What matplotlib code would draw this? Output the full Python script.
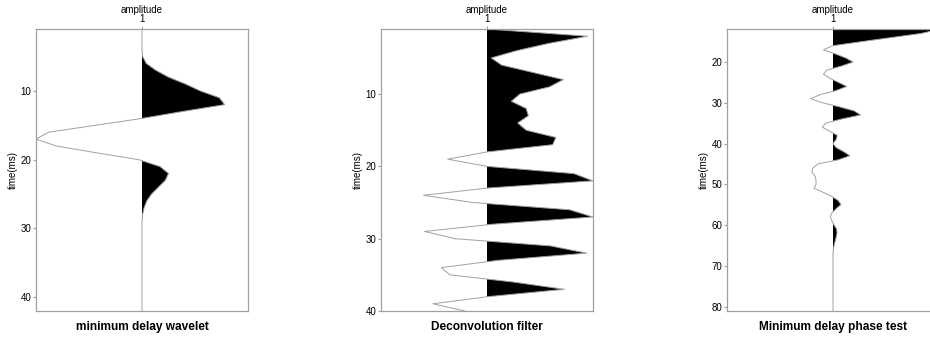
import numpy as np
import matplotlib
matplotlib.use("Agg")
import matplotlib.pyplot as plt

plt.rcParams['font.family'] = ['Liberation Sans', 'DejaVu Sans']

# minimum delay wavelet, 1..42 ms
t1 = np.arange(1, 43)
w1 = [0, 0, 0, 0, 0.006, 0.04, 0.13, 0.25, 0.41, 0.55, 0.73, 0.78, 0.38, 0.0,
      -0.44, -0.88, -1.0, -0.81, -0.43, -0.03, 0.17, 0.25, 0.22, 0.155, 0.09,
      0.045, 0.02, 0.005, 0, 0, 0, 0, 0, 0, 0, 0, 0, 0, 0, 0, 0, 0]

# deconvolution filter, 1..40 ms
t2 = np.arange(1, 41)
w2 = [0.0, 0.95, 0.58, 0.28, 0.04, 0.14, 0.43, 0.72, 0.59, 0.31, 0.23, 0.37,
      0.39, 0.29, 0.37, 0.65, 0.62, 0.0, -0.37, 0.0, 0.82, 1.0, 0.0, -0.6,
      -0.13, 0.78, 1.0, 0.05, -0.59, -0.3, 0.6, 0.94, 0.1, -0.43, -0.35, 0.25,
      0.73, 0.02, -0.51, -0.21]

# minimum delay phase test, 12..81 ms
t3 = np.arange(12, 82)
w3 = [1.0, 0.83, 0.55, 0.27, 0.0, -0.09, 0.02, 0.12, 0.19, 0.08, -0.06, -0.09,
      -0.03, 0.05, 0.13, 0.03, -0.12, -0.21, -0.1, 0.06, 0.2, 0.26, 0.08,
      -0.07, -0.1, -0.03, 0.04, 0.03, 0.0, 0.03, 0.1, 0.16, 0.05, -0.14, -0.19,
      -0.2, -0.17, -0.16, -0.16, -0.18, -0.09, -0.01, 0.05, 0.075, 0.03, -0.01,
      -0.025, -0.01, 0.01, 0.035, 0.038, 0.03, 0.02, 0.01, 0.003,
      0, 0, 0, 0, 0, 0, 0, 0, 0, 0, 0, 0, 0, 0, 0]

titles = ['minimum delay wavelet', 'Deconvolution filter', 'Minimum delay phase test']
yticks = [[10, 20, 30, 40], [10, 20, 30, 40], [20, 30, 40, 50, 60, 70, 80]]
ylims = [(42, 1), (40, 1), (81.1, 11.9)]
lefts = [36, 381, 727]

W, H = 930, 337
fig = plt.figure(figsize=(W / 100, H / 100), dpi=100)

gray = '#a0a0a0'
for i, (t, w) in enumerate([(t1, w1), (t2, w2), (t3, w3)]):
    w = np.array(w, dtype=float)
    ax = fig.add_axes([lefts[i] / W, (H - 311) / H, 212 / W, 282 / H])
    ax.plot(1 + w, t, color=gray, lw=0.7)
    ax.fill_betweenx(t, 1, 1 + w, where=w > 0, interpolate=True,
                     color='black', lw=0)
    ax.set_xlim(0, 2)
    ax.set_ylim(*ylims[i])
    ax.set_yticks(yticks[i])
    ax.set_xticks([1])
    ax.xaxis.set_ticks_position('top')
    ax.xaxis.set_label_position('top')
    ax.set_xlabel('amplitude', fontsize=7, labelpad=1)
    ax.set_ylabel('time(ms)', fontsize=7, labelpad=2)
    ax.tick_params(labelsize=7, length=2.5, width=0.8, color=gray, pad=1)
    for s in ax.spines.values():
        s.set_color(gray)
        s.set_linewidth(0.9)
    ax.text(0.5, -0.035, titles[i], transform=ax.transAxes, ha='center',
            va='top', fontsize=8.6, fontweight='bold')

fig.savefig('out.png', dpi=100)
